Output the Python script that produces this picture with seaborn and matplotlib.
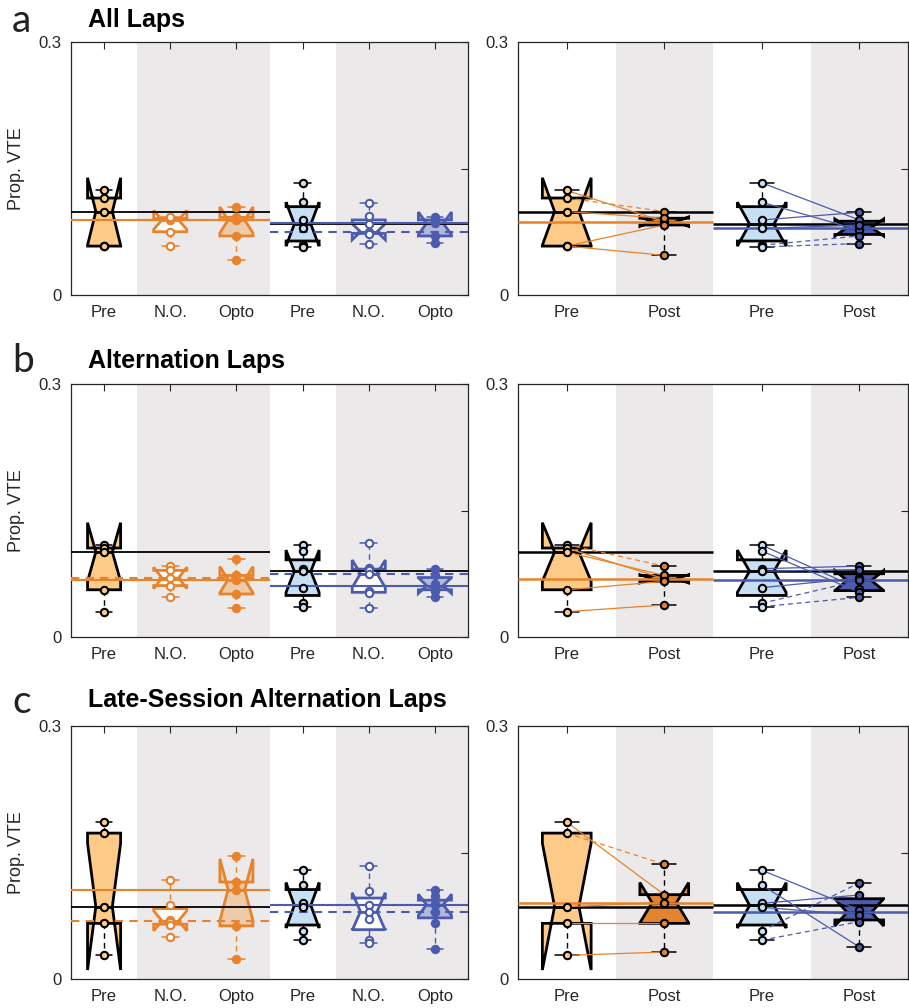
import numpy as np
import matplotlib
matplotlib.use("Agg")
import matplotlib.pyplot as plt
import seaborn as sns

# ---------------- data ----------------
categories_left = ["Pre", "N.O.", "Opto", "Pre", "N.O.", "Opto"]
categories_right = ["Pre", "Post", "Pre", "Post"]
titles = ["All Laps", "Alternation Laps", "Late-Session Alternation Laps"]
letters = ["a", "b", "c"]
ytick_values = [0, 0.15, 0.3]
ytick_labels = ["0", "", "0.3"]

# panel a
a_pre_or = [0.124, 0.115, 0.099, 0.058, 0.058]
a_no_or = [0.058, 0.075, 0.089, 0.091, 0.092]
a_opto_or = [0.104, 0.092, 0.089, 0.070, 0.042]
a_pre_bl = [0.133, 0.110, 0.089, 0.079, 0.059, 0.057]
a_no_bl = [0.109, 0.094, 0.084, 0.075, 0.074, 0.072, 0.061]
a_opto_bl = [0.092, 0.089, 0.085, 0.070, 0.062]
a_post_or = [0.087, 0.099, 0.091, 0.083, 0.047]
a_post_bl = [0.089, 0.077, 0.098, 0.083, 0.070, 0.061]
a_pair_or = ["-", "--", "-", "-", "-"]
a_pair_bl = ["-", "-", "-", "-", "--", "--"]

# panel b
b_pre_or = [0.1095, 0.1055, 0.1008, 0.056, 0.030]
b_no_or = [0.084, 0.079, 0.070, 0.061, 0.048]
b_opto_or = [0.092, 0.073, 0.068, 0.051, 0.034]
b_pre_bl = [0.109, 0.102, 0.081, 0.078, 0.0585, 0.040, 0.036]
b_no_bl = [0.111, 0.082, 0.079, 0.075, 0.054, 0.052, 0.034]
b_opto_bl = [0.081, 0.073, 0.063, 0.059, 0.055, 0.047]
b_post_or = [0.084, 0.069, 0.073, 0.066, 0.038]
b_post_bl = [0.057, 0.053, 0.084, 0.080, 0.070, 0.067, 0.047]
b_pair_or = ["--", "-", "-", "-", "-"]
b_pair_bl = ["-", "-", "-", "-", "-", "--", "--"]

# panel c
c_pre_or = [0.186, 0.173, 0.0858, 0.066, 0.028]
c_no_or = [0.117, 0.088, 0.070, 0.068, 0.064, 0.050]
c_opto_or = [0.146, 0.115, 0.106, 0.063, 0.024]
c_pre_bl = [0.129, 0.1115, 0.0897, 0.085, 0.057, 0.046]
c_no_bl = [0.134, 0.104, 0.088, 0.080, 0.071, 0.046, 0.043]
c_opto_bl = [0.106, 0.098, 0.089, 0.088, 0.079, 0.066, 0.036]
c_post_or = [0.100, 0.136, 0.0905, 0.066, 0.032]
c_post_bl = [0.082, 0.038, 0.0996, 0.076, 0.114, 0.068]
c_pair_or = ["-", "--", "-", "-", "-"]
c_pair_bl = ["-", "-", "-", "-", "--", "--"]

panels = [
    dict(pre_or=a_pre_or, no_or=a_no_or, opto_or=a_opto_or, pre_bl=a_pre_bl, no_bl=a_no_bl,
         opto_bl=a_opto_bl, post_or=a_post_or, post_bl=a_post_bl, pair_or=a_pair_or, pair_bl=a_pair_bl),
    dict(pre_or=b_pre_or, no_or=b_no_or, opto_or=b_opto_or, pre_bl=b_pre_bl, no_bl=b_no_bl,
         opto_bl=b_opto_bl, post_or=b_post_or, post_bl=b_post_bl, pair_or=b_pair_or, pair_bl=b_pair_bl),
    dict(pre_or=c_pre_or, no_or=c_no_or, opto_or=c_opto_or, pre_bl=c_pre_bl, no_bl=c_no_bl,
         opto_bl=c_opto_bl, post_or=c_post_or, post_bl=c_post_bl, pair_or=c_pair_or, pair_bl=c_pair_bl),
]

# ---------------- style ----------------
OR = "#E8832B"
BL = "#4B5BAD"
LIGHT_OR = "#FDCB87"
TAN = "#EDCBAA"
DARK_OR = "#E2852E"
LIGHT_BL = "#C7DFF3"
LAV = "#B3B7DA"
DARK_BL = "#4B5BAD"
GRAY = "#EBE9EA"
DASH = (0, (4, 3))

sns.set_style("white")
plt.rcParams["font.family"] = ["Liberation Sans", "DejaVu Sans"]

W, H = 909, 1008
fig = plt.figure(figsize=(W / 100, H / 100), dpi=100)

left_x, left_w = 71 / W, 397 / W
right_x, right_w = 518 / W, 390 / W
tops = [42, 384, 726]
ax_h_px = 253
title_base = [27, 368, 707]
letter_base = [32, 372, 713]


def draw_box(ax, pos, vals, face, edge, pt_face, pt_edge):
    vals = np.asarray(vals, dtype=float)
    xs = np.full(len(vals), float(pos))
    sns.boxplot(x=xs, y=vals, native_scale=True, width=0.5, notch=True, whis=(0, 100),
                color=face, linecolor=edge, saturation=1, linewidth=2.0, fliersize=0,
                whiskerprops=dict(linestyle=DASH, linewidth=1.0, color=edge),
                capprops=dict(linewidth=1.1, color=edge),
                medianprops=dict(linewidth=2.0, color=edge),
                ax=ax, zorder=2)
    sns.scatterplot(x=xs, y=vals, ax=ax, s=28, color=pt_face, edgecolor=pt_edge,
                    linewidth=1.5, zorder=6, legend=False)


def style_axis(ax, labels):
    n = len(labels)
    ax.set_xlim(0.5, n + 0.5)
    ax.set_ylim(0, 0.3)
    ax.set_xticks(range(1, n + 1))
    ax.set_xticklabels(labels, fontsize=12, color="#262626")
    ax.set_yticks(ytick_values)
    ax.set_yticklabels(ytick_labels, fontsize=12, color="#262626")
    ax.tick_params(direction="in", top=True, right=True, length=5, width=0.8,
                   colors="#262626", pad=7)
    for sp in ax.spines.values():
        sp.set_visible(True)
        sp.set_color("#262626")
        sp.set_linewidth(0.9)
    ax.set_xlabel("")
    ax.set_ylabel("")


for i, P in enumerate(panels):
    bottom = 1 - (tops[i] + ax_h_px) / H
    height = ax_h_px / H
    axL = fig.add_axes([left_x, bottom, left_w, height])
    axR = fig.add_axes([right_x, bottom, right_w, height])

    # shaded bands
    for a0, a1 in [(1.5, 3.5), (4.5, 6.5)]:
        axL.axvspan(a0, a1, color=GRAY, zorder=0, lw=0)
    for a0, a1 in [(1.5, 2.5), (3.5, 4.5)]:
        axR.axvspan(a0, a1, color=GRAY, zorder=0, lw=0)

    # left panel boxes
    draw_box(axL, 1, P["pre_or"], LIGHT_OR, "black", LIGHT_OR, "black")
    draw_box(axL, 2, P["no_or"], "white", OR, "white", OR)
    draw_box(axL, 3, P["opto_or"], TAN, OR, OR, OR)
    draw_box(axL, 4, P["pre_bl"], LIGHT_BL, "black", LIGHT_BL, "black")
    draw_box(axL, 5, P["no_bl"], "white", BL, "white", BL)
    draw_box(axL, 6, P["opto_bl"], LAV, BL, BL, BL)

    # median reference lines (left)
    axL.hlines(np.median(P["pre_or"]), 0.5, 3.5, color="black", lw=1.3, zorder=3)
    axL.hlines(np.median(P["no_or"]), 0.5, 3.5, color=OR, lw=1.5, ls=DASH, zorder=3)
    axL.hlines(np.median(P["opto_or"]), 0.5, 3.5, color=OR, lw=1.5, zorder=3)
    axL.hlines(np.median(P["pre_bl"]), 3.5, 6.5, color="black", lw=1.3, zorder=3)
    axL.hlines(np.median(P["no_bl"]), 3.5, 6.5, color=BL, lw=1.5, ls=DASH, zorder=3)
    axL.hlines(np.median(P["opto_bl"]), 3.5, 6.5, color=BL, lw=1.5, zorder=3)

    # right panel boxes
    draw_box(axR, 1, P["pre_or"], LIGHT_OR, "black", LIGHT_OR, "black")
    draw_box(axR, 2, P["post_or"], DARK_OR, "black", DARK_OR, "black")
    draw_box(axR, 3, P["pre_bl"], LIGHT_BL, "black", LIGHT_BL, "black")
    draw_box(axR, 4, P["post_bl"], DARK_BL, "black", DARK_BL, "black")

    # paired lines
    for p, q, s in zip(P["pre_or"], P["post_or"], P["pair_or"]):
        axR.plot([1, 2], [p, q], color=OR, lw=0.9, ls=(DASH if s == "--" else "-"), zorder=4)
    for p, q, s in zip(P["pre_bl"], P["post_bl"], P["pair_bl"]):
        axR.plot([3, 4], [p, q], color=BL, lw=0.9, ls=(DASH if s == "--" else "-"), zorder=4)

    axR.hlines(np.median(P["pre_or"]), 0.5, 2.5, color="black", lw=1.8, zorder=3)
    axR.hlines(np.median(P["post_or"]), 0.5, 2.5, color=OR, lw=1.8, zorder=3)
    axR.hlines(np.median(P["pre_bl"]), 2.5, 4.5, color="black", lw=1.8, zorder=3)
    axR.hlines(np.median(P["post_bl"]), 2.5, 4.5, color=BL, lw=1.8, zorder=3)

    style_axis(axL, categories_left)
    style_axis(axR, categories_right)
    axL.set_ylabel("Prop. VTE", fontsize=13, color="#262626")
    axL.yaxis.set_label_coords(-0.116, 0.5)

    fig.text(88 / W, 1 - title_base[i] / H, titles[i], fontsize=18, fontweight="bold",
             ha="left", va="baseline", color="black")
    fig.text(12 / W, 1 - letter_base[i] / H, letters[i], fontsize=28, fontweight="normal",
             family=["Lato", "DejaVu Sans"], ha="left", va="baseline", color="#222222")

fig.savefig("out.png", dpi=100)
